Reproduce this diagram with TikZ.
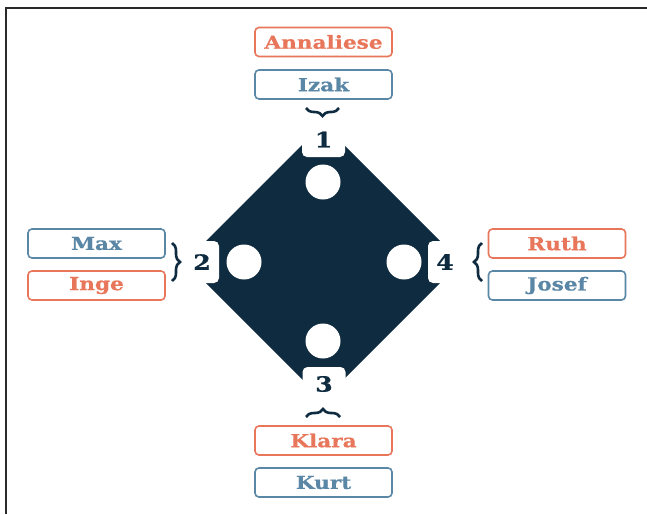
\documentclass[tikz,border=0pt]{standalone}
\usepackage{fontspec}
\setmainfont{DejaVu Serif}
\newfontfamily\labelfont[FakeStretch=1.2,FakeBold=0.6]{DejaVu Serif}
\usetikzlibrary{decorations.pathreplacing}
\definecolor{navy}{HTML}{0E2B3F}
\definecolor{coral}{HTML}{E8765A}
\definecolor{steel}{HTML}{5A87A5}
\definecolor{framegray}{HTML}{2A2A2A}
\tikzset{
  namebox/.style={draw=#1, text=#1, line width=1.6pt, rounded corners=4pt, fill=white,
    minimum width=137pt, minimum height=29pt, inner sep=0pt, font=\labelfont\fontsize{18}{18}\selectfont\bfseries},
  tabbox/.style={fill=white, rounded corners=5pt, inner sep=0pt, text=navy,
    font=\labelfont\fontsize{21}{21}\selectfont\bfseries},
  hole/.style={circle, fill=white, minimum size=35pt, inner sep=0pt},
  brc/.style={draw=navy, line width=2.6pt, decorate, decoration={brace, amplitude=8pt}}
}
\begin{document}
\begin{tikzpicture}[x=1pt,y=-1pt]
\useasboundingbox (0,0) rectangle (647,514);
\fill[white] (0,0) rectangle (647,514);
\draw[framegray, line width=2pt] (6,514) -- (6,8) -- (647,8);
% diamond
\node[coordinate] (c) at (323,262) {};
\fill[navy] (323,124) -- (461,262) -- (323,400) -- (185,262) -- cycle;
% holes
\node[hole] (h1) at (323,182) {};
\node[hole] (h2) at (244,262) {};
\node[hole] (h3) at (323,341) {};
\node[hole] (h4) at (404,262) {};
% tabs
\node[tabbox, minimum width=43pt, minimum height=35pt] (t1) at (323.5,139.5) {1};
\node[tabbox, minimum width=34pt, minimum height=42pt] (t2) at (202,262) {2};
\node[tabbox, minimum width=43pt, minimum height=34pt] (t3) at (324,384) {3};
\node[tabbox, minimum width=34pt, minimum height=42pt] (t4) at (445,262) {4};
% name boxes
\node[namebox=coral] (annaliese) at (323.5,42) {Annaliese};
\node[namebox=steel] (izak) at (323.5,84.5) {Izak};
\node[namebox=steel] (max) at (96.5,243.5) {Max};
\node[namebox=coral] (inge) at (96.5,285.5) {Inge};
\node[namebox=coral] (ruth) at (557,243.5) {Ruth};
\node[namebox=steel] (josef) at (557,285.5) {Josef};
\node[namebox=coral] (klara) at (323.5,440.5) {Klara};
\node[namebox=steel] (kurt) at (323.5,482.5) {Kurt};
% braces
\coordinate (b1a) at (339,108);
\coordinate (b1b) at (306,108);
\draw[brc] (b1a) -- (b1b);
\coordinate (b2a) at (172,243);
\coordinate (b2b) at (172,281);
\draw[brc] (b2a) -- (b2b);
\coordinate (b4a) at (482,281);
\coordinate (b4b) at (482,243);
\draw[brc] (b4a) -- (b4b);
\coordinate (b3a) at (306,417);
\coordinate (b3b) at (340,417);
\draw[brc] (b3a) -- (b3b);
\end{tikzpicture}
\end{document}
